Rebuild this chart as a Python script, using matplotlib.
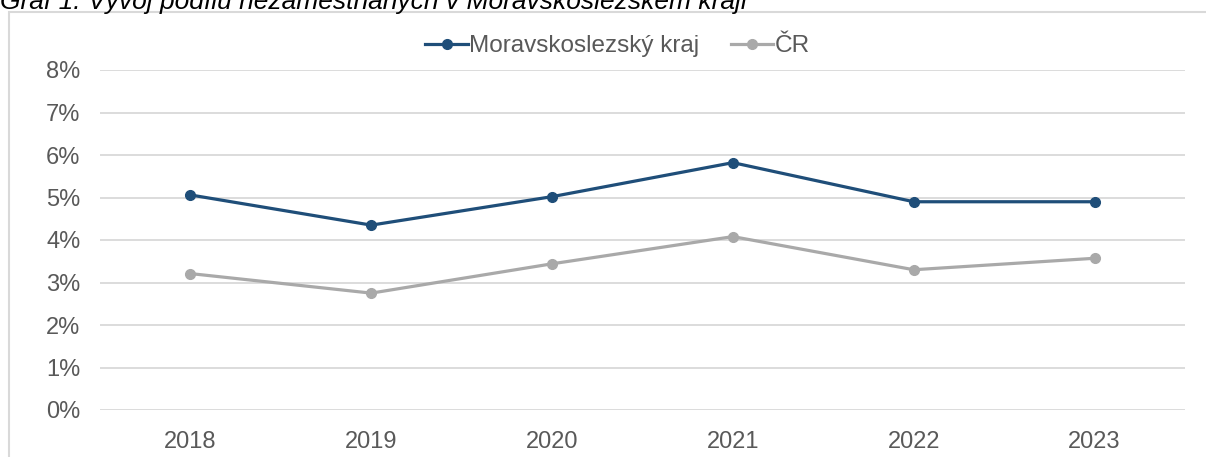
import matplotlib.pyplot as plt
from matplotlib.patches import Rectangle
from matplotlib.ticker import FuncFormatter

plt.rcParams['font.family'] = ['Liberation Sans', 'DejaVu Sans']

# Data
years = ["2018", "2019", "2020", "2021", "2022", "2023"]
ms_kraj = [0.0506, 0.0435, 0.0502, 0.0582, 0.0490, 0.0490]
cr = [0.0321, 0.0275, 0.0344, 0.0408, 0.0330, 0.0357]

fig = plt.figure(figsize=(12.06, 4.57), dpi=100)
ax = fig.add_axes([100 / 1206, 1 - 410 / 457, 1085 / 1206, 340 / 457])

x = range(len(years))
ax.plot(x, ms_kraj, color="#1f4e79", lw=2.3, marker="o", ms=7, label="Moravskoslezský kraj")
ax.plot(x, cr, color="#a9a9a9", lw=2.3, marker="o", ms=7, label="ČR")

ax.set_xlim(-0.5, len(years) - 0.5)
ax.set_ylim(0, 0.08)
ax.set_yticks([i / 100 for i in range(9)])
ax.yaxis.set_major_formatter(FuncFormatter(lambda v, p: f"{v * 100:.0f}%"))
ax.set_xticks(list(x))
ax.set_xticklabels(years)
ax.grid(axis="y", color="#d9d9d9", lw=1.3)
ax.set_axisbelow(True)
for s in ax.spines.values():
    s.set_visible(False)
ax.tick_params(length=0, labelsize=17, labelcolor="#595959")
ax.tick_params(axis="x", pad=15)
ax.tick_params(axis="y", pad=14)

leg = ax.legend(loc="center", bbox_to_anchor=(0.477, 1 + 24 / 340), ncol=2, frameon=False,
                fontsize=17.5, handlelength=1.75, handletextpad=0.05, columnspacing=1.3)
for t in leg.get_texts():
    t.set_color("#595959")

# chart frame
fig.patches.append(Rectangle((8.5 / 1206, -0.1), 1.2, 1 - 12.5 / 457 + 0.1,
                             transform=fig.transFigure, fill=False,
                             edgecolor="#d9d9d9", lw=1.5))

fig.text(0.0, 1 - 9 / 457, "Graf 1: Vývoj podílu nezaměstnaných v Moravskoslezském kraji",
         fontsize=19, style="italic", color="#000000", va="baseline", ha="left")

fig.savefig("out.png", dpi=100)
